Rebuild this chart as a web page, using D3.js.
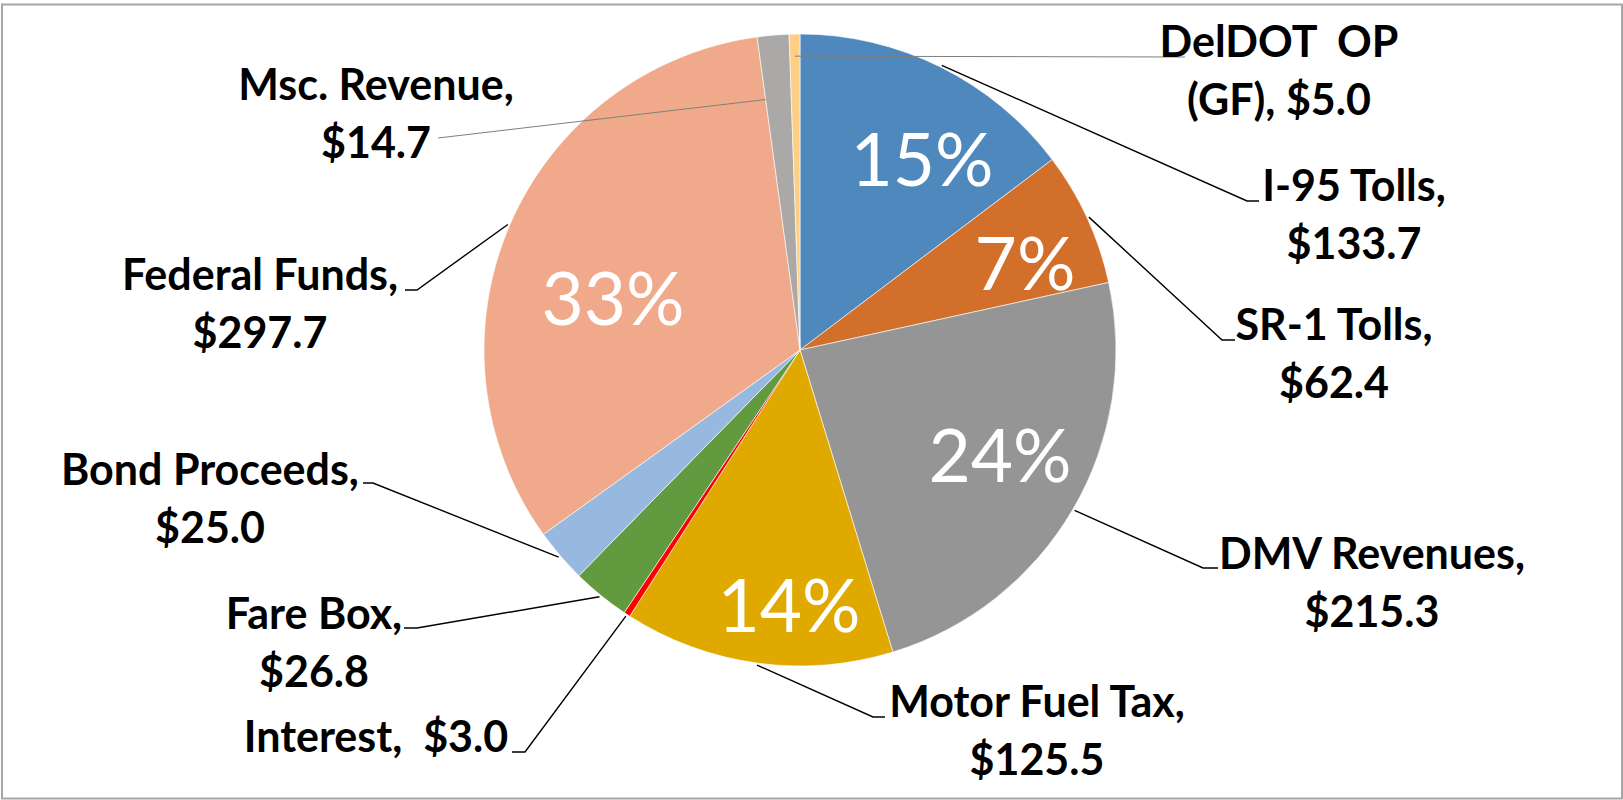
<!DOCTYPE html>
<html lang="en">
<head>
<meta charset="UTF-8">
<title>DelDOT Revenue Sources</title>
<script src="https://cdnjs.cloudflare.com/ajax/libs/d3/7.8.5/d3.min.js"></script>
<style>
  html, body { margin: 0; padding: 0; background: #fff; }
  svg { display: block; }
  text { white-space: pre; }
  .lbl { font-family: Lato, "Open Sans", sans-serif; font-weight: 700; font-size: 43px; fill: #000; }
  .pct { font-family: Lato, "Open Sans", sans-serif; font-weight: 400; font-size: 73px; fill: #fff; }
</style>
</head>
<body>
<script>
// revenue sources, clockwise from 12 o'clock ($ millions)
var categories = ['I-95 Tolls', 'SR-1 Tolls', 'DMV Revenues', 'Motor Fuel Tax', 'Interest',
                  'Fare Box', 'Bond Proceeds', 'Federal Funds', 'Msc. Revenue', 'DelDOT  OP (GF)'];
var values = [133.7, 62.4, 215.3, 125.5, 3.0, 26.8, 25.0, 297.7, 14.7, 5.0];
var colors = ['#4F88BD', '#D2702B', '#959595', '#E0A900', '#FF0000',
              '#629A40', '#98B9DF', '#F0A98A', '#ABA9A8', '#FCCF85'];

var W = 1623, H = 800;
var cx = 800, cy = 350, R = 316;

// where each label sits (x = centre of text, y = first baseline) and how the leader bends
var layout = {
    'I-95 Tolls':      { x: 1354, y: 201, elbow: [1247, 201], end: [1259, 201] },
    'SR-1 Tolls':      { x: 1334, y: 340, elbow: [1222, 340], end: [1235, 340] },
    'DMV Revenues':    { x: 1372, y: 569, elbow: [1203, 568], end: [1218, 568] },
    'Motor Fuel Tax':  { x: 1037, y: 717, elbow: [873, 717], end: [885, 717] },
    'Interest':        { x: 376,  y: 752, elbow: [525, 752], end: [512, 752], oneLine: true },
    'Fare Box':        { x: 314,  y: 629, elbow: [417, 628], end: [404, 628] },
    'Bond Proceeds':   { x: 210,  y: 485, elbow: [373, 483], end: [363, 483] },
    'Federal Funds':   { x: 260,  y: 290, elbow: [417, 290], end: [405, 290] },
    'Msc. Revenue':    { x: 376,  y: 100, end: [438, 138], gray: true, inside: 'start' },
    'DelDOT  OP (GF)': { x: 1279, y: 57,  end: [1185, 57], gray: true, inside: 'mid',
                         lines: ['DelDOT  OP', '(GF), $5.0'] }
};
// percentage labels, centre of the digits
var pctPos = {
    'I-95 Tolls': [922, 160],
    'SR-1 Tolls': [1025, 264],
    'DMV Revenues': [1000, 456],
    'Motor Fuel Tax': [789, 606],
    'Federal Funds': [613, 299]
};

var data = categories.map(function (c, i) { return { name: c, value: values[i], color: colors[i] }; });
var total = d3.sum(values);

var svg = d3.select('body').append('svg')
    .attr('width', W)
    .attr('height', H);

// chart frame
svg.append('rect')
    .attr('x', 2).attr('y', 4.5)
    .attr('width', W - 3).attr('height', H - 6)
    .attr('fill', 'none')
    .attr('stroke', '#A6A6A6')
    .attr('stroke-width', 2);

var pie = d3.pie().sort(null).value(function (d) { return d.value; });
var arc = d3.arc().innerRadius(0).outerRadius(R);
var arcs = pie(data);

var g = svg.append('g').attr('transform', 'translate(' + cx + ',' + cy + ')');

g.selectAll('path.slice')
    .data(arcs)
    .enter()
    .append('path')
    .attr('class', 'slice')
    .attr('d', arc)
    .attr('fill', function (d) { return d.data.color; })
    .attr('stroke', '#fff')
    .attr('stroke-width', 0.6);

function pt(a, r) {
    return [cx + r * Math.sin(a), cy - r * Math.cos(a)];
}

// leader lines
arcs.forEach(function (d) {
    var L = layout[d.data.name];
    var mid = (d.startAngle + d.endAngle) / 2;
    var p0;
    if (L.inside === 'start') p0 = pt(d.startAngle, R * 0.8);
    else if (L.inside === 'mid') p0 = pt(mid, R * 0.93);
    else p0 = pt(mid, R + 2);
    var pts = [p0];
    if (L.elbow) pts.push(L.elbow);
    pts.push(L.end);
    svg.append('path')
        .attr('d', d3.line()(pts))
        .attr('fill', 'none')
        .attr('stroke', L.gray ? '#7F7F7F' : '#000')
        .attr('stroke-width', L.gray ? 1 : 1.4);
});

// category labels
arcs.forEach(function (d) {
    var L = layout[d.data.name];
    var money = '$' + d.data.value.toFixed(1);
    var lines = L.lines || (L.oneLine ? [d.data.name + ',  ' + money] : [d.data.name + ',', money]);
    var t = svg.append('text')
        .attr('class', 'lbl')
        .attr('text-anchor', 'middle');
    lines.forEach(function (s, i) {
        t.append('tspan')
            .attr('x', L.x)
            .attr('y', L.y + i * 57.5)
            .text(s);
    });
});

// percentages inside the big slices
arcs.forEach(function (d) {
    var p = pctPos[d.data.name];
    if (!p) return;
    svg.append('text')
        .attr('class', 'pct')
        .attr('text-anchor', 'middle')
        .attr('x', p[0])
        .attr('y', p[1] + 26)
        .text(Math.round(d.data.value / total * 100) + '%');
});
</script>
</body>
</html>
